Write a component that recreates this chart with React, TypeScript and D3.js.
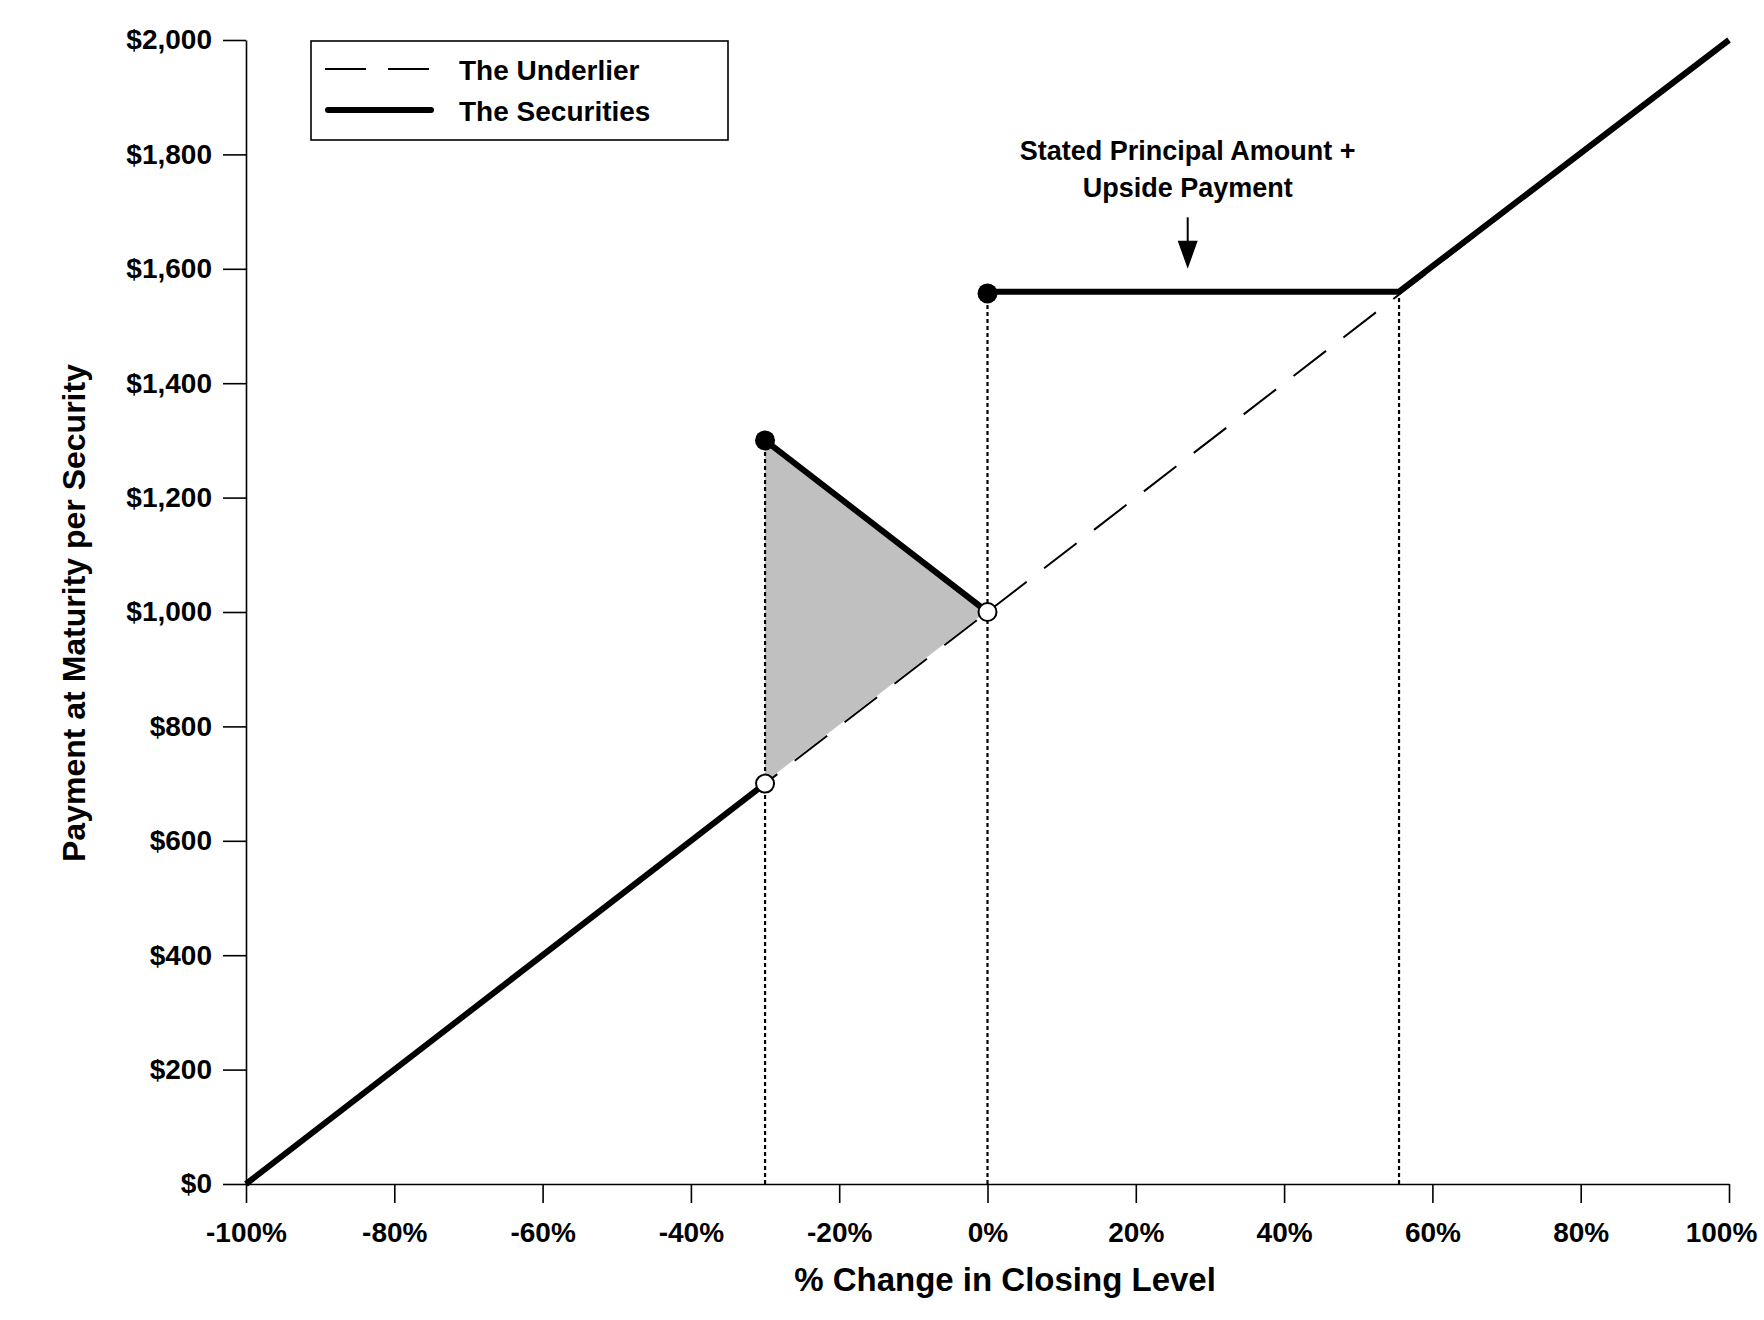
import React, { useEffect, useRef } from 'react';
import * as d3 from 'd3';

// axis ticks
const changeTicks = [-100, -80, -60, -40, -20, 0, 20, 40, 60, 80, 100];
const paymentTicks = [0, 200, 400, 600, 800, 1000, 1200, 1400, 1600, 1800, 2000];

// the underlier (dashed)
const underlierChange = [-100, 100];
const underlierPayment = [0, 2000];

// the securities (thick), three pieces
const lowerChange = [-100, -30];
const lowerPayment = [0, 700];
const bufferChange = [-30, 0];
const bufferPayment = [1300, 1000];
const upperChange = [0, 55.5, 100];
const upperPayment = [1560, 1560, 2000];

// end markers
const filledChange = [-30, 0];
const filledPayment = [1300, 1557];
const openChange = [-30, 0];
const openPayment = [700, 1000];

// grey zone
const shadeChange = [-30, 0, -30];
const shadePayment = [1300, 1000, 700];

// dotted guides
const guideChange = [-30, 0, 55.5];
const guidePayment = [1300, 1557, 1560];

const legendLabels = ['The Underlier', 'The Securities'];
const noteLines = ['Stated Principal Amount +', 'Upside Payment'];
const noteChange = 27;
const noteArrow = [1690, 1600];
const noteText = [1790, 1725];

const FONT = '"Liberation Sans", Arial, Helvetica, sans-serif';

const zip = (a: number[], b: number[]): [number, number][] => a.map((v, i) => [v, b[i]]);

const App: React.FC = () => {
  const xAxisRef = useRef<SVGGElement>(null);
  const yAxisRef = useRef<SVGGElement>(null);

  const x = d3.scaleLinear().domain([-100, 100]).range([246, 1729]);
  const y = d3.scaleLinear().domain([0, 2000]).range([1184, 40]);

  const line = d3.line<[number, number]>()
    .x(d => x(d[0]))
    .y(d => y(d[1]));

  useEffect(() => {
    const gx = d3.select(xAxisRef.current!);
    gx.selectAll('*').remove();
    gx.call(
      d3.axisBottom(x)
        .tickValues(changeTicks)
        .tickSize(19)
        .tickSizeOuter(0)
        .tickPadding(19)
        .tickFormat(d => `${d}%`)
    );
    gx.attr('font-family', FONT).attr('font-size', 28).attr('font-weight', 'bold');
    gx.selectAll('path, line').attr('stroke', '#000').attr('stroke-width', 1.6);
    gx.selectAll('text').attr('fill', '#000');
    // keep the last label inside the page
    gx.selectAll<SVGTextElement, number>('text').filter(d => d === 100).attr('dx', -8);

    const gy = d3.select(yAxisRef.current!);
    gy.selectAll('*').remove();
    gy.call(
      d3.axisLeft(y)
        .tickValues(paymentTicks)
        .tickSize(23)
        .tickSizeOuter(0)
        .tickPadding(11)
        .tickFormat(d => d3.format('$,')(d as number))
    );
    gy.attr('font-family', FONT).attr('font-size', 28).attr('font-weight', 'bold');
    gy.selectAll('path, line').attr('stroke', '#000').attr('stroke-width', 1.6);
    gy.selectAll('text').attr('fill', '#000');
  }, []);

  const ax = x(noteChange);

  return (
    <svg
      width={1764}
      height={1320}
      style={{ position: 'absolute', left: 0, top: 0, background: '#fff' }}
      fontFamily={FONT}
    >
      <rect width={1764} height={1320} fill="#fff" />

      {/* shaded zone */}
      <path d={line(zip(shadeChange, shadePayment))! + 'Z'} fill="#c0c0c0" stroke="none" />

      {/* underlier */}
      <path d={line(zip(underlierChange, underlierPayment))!} fill="none" stroke="#fff" strokeWidth={2.5} />
      <path
        d={line(zip(underlierChange, underlierPayment))!}
        fill="none"
        stroke="#000"
        strokeWidth={2}
        strokeDasharray="41,22"
      />

      {/* dotted guides */}
      {guideChange.map((c, i) => (
        <line
          key={`g${i}`}
          x1={x(c)}
          x2={x(c)}
          y1={y(0)}
          y2={y(guidePayment[i])}
          stroke="#000"
          strokeWidth={2.2}
          strokeDasharray="4,3"
        />
      ))}

      {/* securities */}
      {[zip(lowerChange, lowerPayment), zip(bufferChange, bufferPayment), zip(upperChange, upperPayment)].map((seg, i) => (
        <path key={`s${i}`} d={line(seg)!} fill="none" stroke="#000" strokeWidth={6} strokeLinejoin="miter" />
      ))}

      <g ref={xAxisRef} transform={`translate(0,${y(0)})`} />
      <g ref={yAxisRef} transform={`translate(${x(-100)},0)`} />

      {/* markers */}
      {filledChange.map((c, i) => (
        <circle key={`f${i}`} cx={x(c)} cy={y(filledPayment[i])} r={10} fill="#000" />
      ))}
      {openChange.map((c, i) => (
        <circle key={`o${i}`} cx={x(c)} cy={y(openPayment[i])} r={9} fill="#fff" stroke="#000" strokeWidth={2} />
      ))}

      {/* legend */}
      <rect x={311} y={41} width={417} height={99} fill="#fff" stroke="#000" strokeWidth={1.6} />
      <line x1={325} x2={429} y1={69} y2={69} stroke="#000" strokeWidth={2} strokeDasharray="41,22" />
      <line x1={328} x2={431} y1={110} y2={110} stroke="#000" strokeWidth={6} strokeLinecap="round" />
      {legendLabels.map((t, i) => (
        <text key={t} x={459} y={80 + i * 41} fontSize={28} fontWeight="bold" fill="#000">
          {t}
        </text>
      ))}

      {/* annotation */}
      {noteLines.map((t, i) => (
        <text key={t} x={ax} y={y(noteText[i])} textAnchor="middle" fontSize={27} fontWeight="bold" fill="#000">
          {t}
        </text>
      ))}
      <line x1={ax} x2={ax} y1={y(noteArrow[0])} y2={y(noteArrow[1]) - 20} stroke="#000" strokeWidth={2} />
      <path
        d={`M${ax - 10},${y(noteArrow[1]) - 28}L${ax + 10},${y(noteArrow[1]) - 28}L${ax},${y(noteArrow[1])}Z`}
        fill="#000"
      />

      {/* axis titles */}
      <text x={1005} y={1291} textAnchor="middle" fontSize={33} fontWeight="bold" fill="#000">
        % Change in Closing Level
      </text>
      <text
        transform="translate(74,613) rotate(-90)"
        textAnchor="middle"
        dy="0.35em"
        fontSize={32}
        fontWeight="bold"
        fill="#000"
      >
        Payment at Maturity per Security
      </text>
    </svg>
  );
};

export default App;
